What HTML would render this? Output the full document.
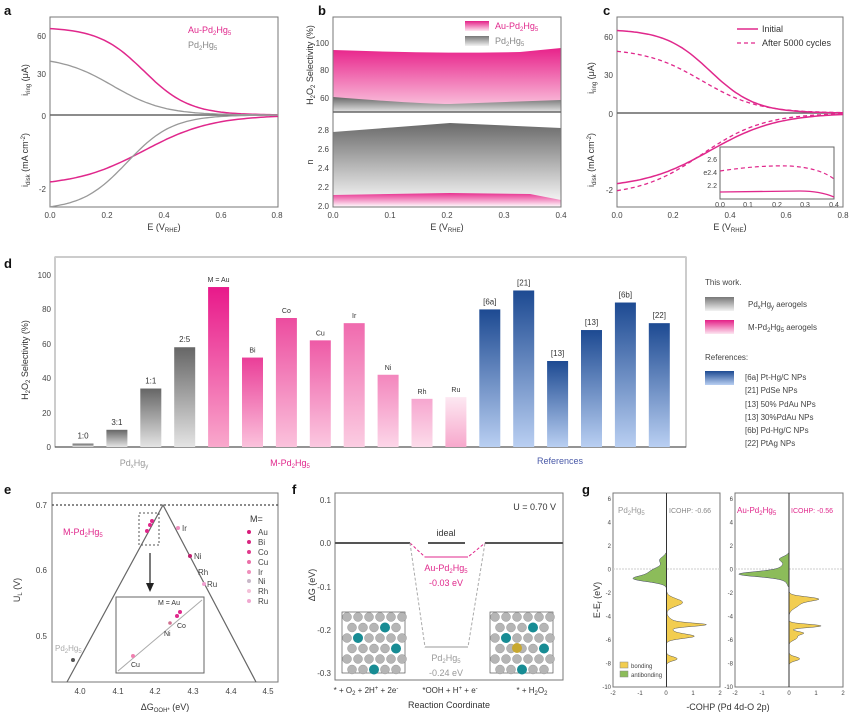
<!DOCTYPE html>
<html><head><meta charset="utf-8">
<style>
html,body{margin:0;padding:0;background:#fff;}
svg{display:block;font-family:"Liberation Sans",sans-serif;}
.t{font-size:8px;fill:#444;}
.l{font-size:9px;fill:#333;}
.p{font-weight:bold;font-size:13px;fill:#111;}
</style></head><body>
<svg id="s" width="861" height="718" viewBox="0 0 861 718" xmlns="http://www.w3.org/2000/svg">
<defs>
<linearGradient id="gG" x1="0" y1="0" x2="0" y2="1"><stop offset="0" stop-color="#666"/><stop offset="1" stop-color="#e4e4e4"/></linearGradient>
<linearGradient id="gB" x1="0" y1="0" x2="0" y2="1"><stop offset="0" stop-color="#1d4a92"/><stop offset="1" stop-color="#b9cff2"/></linearGradient>
<linearGradient id="gP" x1="0" y1="0" x2="0" y2="1"><stop offset="0" stop-color="#e8228a"/><stop offset="1" stop-color="#fbd0e4"/></linearGradient>
<linearGradient id="bP" x1="0" y1="0" x2="0" y2="1"><stop offset="0" stop-color="#e41f87"/><stop offset="1" stop-color="#fde6f1"/></linearGradient>
<linearGradient id="bG" x1="0" y1="0" x2="0" y2="1"><stop offset="0" stop-color="#777"/><stop offset="1" stop-color="#f2f2f2"/></linearGradient>
<linearGradient id="bG2" x1="0" y1="0" x2="0" y2="1"><stop offset="0" stop-color="#6a6a6a"/><stop offset="1" stop-color="#fff"/></linearGradient>
<linearGradient id="bP2" x1="0" y1="0" x2="0" y2="1"><stop offset="0" stop-color="#e8308f"/><stop offset="1" stop-color="#fff"/></linearGradient>
<linearGradient id="pb4" x1="0" y1="0" x2="0" y2="1"><stop offset="0" stop-color="#e8198a"/><stop offset="1" stop-color="#f9a8cc"/></linearGradient>
<linearGradient id="pb5" x1="0" y1="0" x2="0" y2="1"><stop offset="0" stop-color="#ea3e98"/><stop offset="1" stop-color="#fbc2dc"/></linearGradient>
<linearGradient id="pb6" x1="0" y1="0" x2="0" y2="1"><stop offset="0" stop-color="#ec4c9f"/><stop offset="1" stop-color="#fbc2dc"/></linearGradient>
<linearGradient id="pb7" x1="0" y1="0" x2="0" y2="1"><stop offset="0" stop-color="#ee5aa6"/><stop offset="1" stop-color="#fbc8e0"/></linearGradient>
<linearGradient id="pb8" x1="0" y1="0" x2="0" y2="1"><stop offset="0" stop-color="#f06aae"/><stop offset="1" stop-color="#fbcde2"/></linearGradient>
<linearGradient id="pb9" x1="0" y1="0" x2="0" y2="1"><stop offset="0" stop-color="#f386bd"/><stop offset="1" stop-color="#fcd6e8"/></linearGradient>
<linearGradient id="pb10" x1="0" y1="0" x2="0" y2="1"><stop offset="0" stop-color="#f6a6cf"/><stop offset="1" stop-color="#fcdcea"/></linearGradient>
<linearGradient id="pb11" x1="0" y1="0" x2="0" y2="1"><stop offset="0" stop-color="#fde8f2"/><stop offset="1" stop-color="#f7a8cc"/></linearGradient>
</defs>

<text class="p" x="4" y="15">a</text><text class="p" x="318" y="15">b</text><text class="p" x="603" y="15">c</text>
<text class="p" x="4" y="268">d</text><text class="p" x="4" y="494">e</text><text class="p" x="292" y="494">f</text><text class="p" x="582" y="494">g</text>

<!-- panel a -->
<rect x="50" y="17" width="228" height="190" fill="none" stroke="#777"/>
<line x1="50" y1="115" x2="278" y2="115" stroke="#666" stroke-width="1.5"/>
<g class="t" text-anchor="end"><text x="46" y="39">60</text><text x="46" y="77">30</text><text x="46" y="119">0</text><text x="46" y="192">-2</text></g>
<g class="t" text-anchor="middle"><text x="50" y="218">0.0</text><text x="107" y="218">0.2</text><text x="164" y="218">0.4</text><text x="221" y="218">0.6</text><text x="277" y="218">0.8</text></g>
<text class="l" x="164" y="230" text-anchor="middle">E (V<tspan font-size="6" dy="2">RHE</tspan><tspan dy="-2">)</tspan></text>
<text class="l" transform="translate(28,80) rotate(-90)" text-anchor="middle">i<tspan font-size="6" dy="2">ring</tspan><tspan dy="-2"> (μA)</tspan></text>
<text class="l" transform="translate(28,160) rotate(-90)" text-anchor="middle">i<tspan font-size="6" dy="2">disk</tspan><tspan dy="-2"> (mA cm</tspan><tspan font-size="6" dy="-3">-2</tspan><tspan dy="3">)</tspan></text>
<text x="188" y="33" font-size="9" fill="#e0288c">Au-Pd<tspan font-size="6" dy="2">2</tspan><tspan dy="-2">Hg</tspan><tspan font-size="6" dy="2">5</tspan></text>
<text x="188" y="48" font-size="9" fill="#888">Pd<tspan font-size="6" dy="2">2</tspan><tspan dy="-2">Hg</tspan><tspan font-size="6" dy="2">5</tspan></text>
<path id="a1" fill="none" stroke="#e0288c" stroke-width="1.5"/><path id="a2" fill="none" stroke="#999" stroke-width="1.3"/>
<path id="a3" fill="none" stroke="#e0288c" stroke-width="1.5"/><path id="a4" fill="none" stroke="#999" stroke-width="1.3"/>

<!-- panel b -->
<path d="M333,50 Q450,54 520,52 L561,48 L561,112 L333,112Z" fill="url(#gP)"/>
<path d="M333,97 Q420,104 450,104 L561,100 L561,112 L333,112Z" fill="url(#gG)"/>
<path d="M333,132 L450,123 L561,128 L561,207 L333,207Z" fill="url(#bG2)"/>
<path d="M333,195 L450,193 L530,194 L561,200 L561,207 L333,207Z" fill="url(#bP2)"/>
<rect x="333" y="17" width="228" height="190" fill="none" stroke="#777"/>
<line x1="333" y1="112" x2="561" y2="112" stroke="#666" stroke-width="1.5"/>
<rect x="465" y="21" width="24" height="10" fill="url(#bP)"/><rect x="465" y="36" width="24" height="10" fill="url(#bG)"/>
<text x="495" y="29" font-size="9" fill="#e0288c">Au-Pd<tspan font-size="6" dy="2">2</tspan><tspan dy="-2">Hg</tspan><tspan font-size="6" dy="2">5</tspan></text>
<text x="495" y="44" font-size="9" fill="#888">Pd<tspan font-size="6" dy="2">2</tspan><tspan dy="-2">Hg</tspan><tspan font-size="6" dy="2">5</tspan></text>
<g class="t" text-anchor="end"><text x="329" y="46">100</text><text x="329" y="73">80</text><text x="329" y="101">60</text>
<text x="329" y="133">2.8</text><text x="329" y="152">2.6</text><text x="329" y="171">2.4</text><text x="329" y="190">2.2</text><text x="329" y="209">2.0</text></g>
<g class="t" text-anchor="middle"><text x="333" y="218">0.0</text><text x="390" y="218">0.1</text><text x="447" y="218">0.2</text><text x="504" y="218">0.3</text><text x="561" y="218">0.4</text></g>
<text class="l" x="447" y="230" text-anchor="middle">E (V<tspan font-size="6" dy="2">RHE</tspan><tspan dy="-2">)</tspan></text>
<text class="l" transform="translate(313,65) rotate(-90)" text-anchor="middle">H<tspan font-size="6" dy="2">2</tspan><tspan dy="-2">O</tspan><tspan font-size="6" dy="2">2</tspan><tspan dy="-2"> Selectivity (%)</tspan></text>
<text class="l" transform="translate(313,162) rotate(-90)" text-anchor="middle">n</text>

<!-- panel c -->
<rect x="617" y="17" width="226" height="190" fill="none" stroke="#777"/>
<line x1="617" y1="113" x2="843" y2="113" stroke="#666" stroke-width="1.5"/>
<g class="t" text-anchor="end"><text x="613" y="40">60</text><text x="613" y="78">30</text><text x="613" y="117">0</text><text x="613" y="193">-2</text></g>
<g class="t" text-anchor="middle"><text x="617" y="218">0.0</text><text x="673" y="218">0.2</text><text x="730" y="218">0.4</text><text x="786" y="218">0.6</text><text x="843" y="218">0.8</text></g>
<text class="l" x="730" y="230" text-anchor="middle">E (V<tspan font-size="6" dy="2">RHE</tspan><tspan dy="-2">)</tspan></text>
<text class="l" transform="translate(594,78) rotate(-90)" text-anchor="middle">i<tspan font-size="6" dy="2">ring</tspan><tspan dy="-2"> (μA)</tspan></text>
<text class="l" transform="translate(594,160) rotate(-90)" text-anchor="middle">i<tspan font-size="6" dy="2">disk</tspan><tspan dy="-2"> (mA cm</tspan><tspan font-size="6" dy="-3">-2</tspan><tspan dy="3">)</tspan></text>
<line x1="737" y1="29" x2="758" y2="29" stroke="#e0288c" stroke-width="1.5"/>
<line x1="737" y1="43" x2="758" y2="43" stroke="#e0288c" stroke-width="1.3" stroke-dasharray="4,3"/>
<text class="l" x="762" y="32">Initial</text><text class="l" x="762" y="46">After 5000 cycles</text>
<path id="c1" fill="none" stroke="#e0288c" stroke-width="1.5"/><path id="c2" fill="none" stroke="#e0288c" stroke-width="1.3" stroke-dasharray="4,3"/>
<path id="c3" fill="none" stroke="#e0288c" stroke-width="1.5"/><path id="c4" fill="none" stroke="#e0288c" stroke-width="1.3" stroke-dasharray="4,3"/>
<rect x="720" y="147" width="114" height="52" fill="#fff" stroke="#666"/>
<g font-size="7" fill="#444" text-anchor="end"><text x="717" y="162">2.6</text><text x="717" y="175">e2.4</text><text x="717" y="188">2.2</text></g>
<g font-size="7" fill="#444" text-anchor="middle"><text x="720" y="207">0.0</text><text x="748" y="207">0.1</text><text x="777" y="207">0.2</text><text x="805" y="207">0.3</text><text x="834" y="207">0.4</text></g>
<path d="M720,171 Q760,165 790,166 Q820,168 834,179" fill="none" stroke="#e0288c" stroke-width="1.2" stroke-dasharray="4,3"/>
<path d="M720,192 L800,191 Q820,191 834,197" fill="none" stroke="#e0288c" stroke-width="1.3"/>

<!-- panel d -->
<rect x="55" y="257" width="631" height="190" fill="none" stroke="#999"/>
<line x1="55" y1="257" x2="686" y2="257" stroke="#ccc" stroke-width="2"/>
<line x1="55" y1="447" x2="686" y2="447" stroke="#555" stroke-width="1.2"/>
<g class="t" text-anchor="end"><text x="51" y="278">100</text><text x="51" y="312">80</text><text x="51" y="347">60</text><text x="51" y="381">40</text><text x="51" y="416">20</text><text x="51" y="450">0</text></g>
<text class="l" transform="translate(28,360) rotate(-90)" text-anchor="middle">H<tspan font-size="6" dy="2">2</tspan><tspan dy="-2">O</tspan><tspan font-size="6" dy="2">2</tspan><tspan dy="-2"> Selectivity (%)</tspan></text>
<g id="bars"></g>
<text x="134" y="466" font-size="9" fill="#999" text-anchor="middle">Pd<tspan font-size="6" dy="2">x</tspan><tspan dy="-2">Hg</tspan><tspan font-size="6" dy="2">y</tspan></text>
<text x="290" y="466" font-size="9" fill="#e0288c" text-anchor="middle">M-Pd<tspan font-size="6" dy="2">2</tspan><tspan dy="-2">Hg</tspan><tspan font-size="6" dy="2">5</tspan></text>
<text x="560" y="464" font-size="9" fill="#4a5aa8" text-anchor="middle">References</text>
<text class="t" x="705" y="285">This work.</text>
<rect x="705" y="297" width="29" height="14" fill="url(#bG)"/><rect x="705" y="320" width="29" height="14" fill="url(#bP)"/>
<text class="t" x="748" y="307">Pd<tspan font-size="6" dy="2">x</tspan><tspan dy="-2">Hg</tspan><tspan font-size="6" dy="2">y</tspan><tspan dy="-2"> aerogels</tspan></text>
<text class="t" x="748" y="330">M-Pd<tspan font-size="6" dy="2">2</tspan><tspan dy="-2">Hg</tspan><tspan font-size="6" dy="2">5</tspan><tspan dy="-2"> aerogels</tspan></text>
<text class="t" x="705" y="360">References:</text>
<rect x="705" y="371" width="29" height="14" fill="url(#gB)"/>
<g class="t"><text x="745" y="380">[6a] Pt-Hg/C NPs</text><text x="745" y="393">[21] PdSe NPs</text><text x="745" y="407">[13] 50% PdAu NPs</text><text x="745" y="420">[13] 30%PdAu NPs</text><text x="745" y="433">[6b] Pd-Hg/C NPs</text><text x="745" y="446">[22] PtAg NPs</text></g>

<!-- panel e -->
<rect x="52" y="493" width="226" height="189" fill="none" stroke="#777"/>
<line x1="52" y1="505" x2="278" y2="505" stroke="#444" stroke-width="1.3" stroke-dasharray="2,2"/>
<polyline points="67,682 163,505 256,682" fill="none" stroke="#666" stroke-width="1.2"/>
<rect x="139" y="513" width="20" height="32" fill="none" stroke="#555" stroke-dasharray="2,2"/>
<line x1="150" y1="553" x2="150" y2="585" stroke="#222" stroke-width="1.2"/><path d="M146,583 L150,592 L154,583Z" fill="#222"/>
<g class="t" text-anchor="end"><text x="47" y="508">0.7</text><text x="47" y="573">0.6</text><text x="47" y="639">0.5</text></g>
<g class="t" text-anchor="middle"><text x="80" y="694">4.0</text><text x="118" y="694">4.1</text><text x="155" y="694">4.2</text><text x="193" y="694">4.3</text><text x="231" y="694">4.4</text><text x="268" y="694">4.5</text></g>
<text class="l" x="165" y="710" text-anchor="middle">ΔG<tspan font-size="6" dy="2">OOH*</tspan><tspan dy="-2"> (eV)</tspan></text>
<text class="l" transform="translate(20,590) rotate(-90)" text-anchor="middle">U<tspan font-size="6" dy="2">L</tspan><tspan dy="-2"> (V)</tspan></text>
<text x="63" y="535" font-size="9" fill="#e0288c">M-Pd<tspan font-size="6" dy="2">2</tspan><tspan dy="-2">Hg</tspan><tspan font-size="6" dy="2">5</tspan></text>
<text x="55" y="651" font-size="8" fill="#aaa">Pd<tspan font-size="6" dy="2">2</tspan><tspan dy="-2">Hg</tspan><tspan font-size="6" dy="2">5</tspan></text>
<circle cx="73" cy="660" r="2" fill="#555"/>
<g fill="#e0288c"><circle cx="152" cy="521" r="2"/><circle cx="150" cy="525" r="2"/><circle cx="147" cy="531" r="2"/><circle cx="178" cy="528" r="2" fill="#f090c0"/><circle cx="190" cy="556" r="2" fill="#c02070"/><circle cx="204" cy="584" r="2" fill="#f0a0d0"/></g>
<g class="t"><text x="182" y="531">Ir</text><text x="194" y="559">Ni</text><text x="198" y="575">Rh</text><text x="207" y="587">Ru</text></g>
<text class="l" x="250" y="522">M=</text>
<g font-size="8" fill="#444"><text x="258" y="535">Au</text><text x="258" y="545">Bi</text><text x="258" y="555">Co</text><text x="258" y="565">Cu</text><text x="258" y="575">Ir</text><text x="258" y="584">Ni</text><text x="258" y="594">Rh</text><text x="258" y="604">Ru</text></g>
<g><circle cx="249" cy="532" r="2" fill="#d81b7a"/><circle cx="249" cy="542" r="2" fill="#d82680"/><circle cx="249" cy="552" r="2" fill="#e03a8c"/><circle cx="249" cy="562" r="2" fill="#ea70a8"/><circle cx="249" cy="572" r="2" fill="#ef90bc"/><circle cx="249" cy="581" r="2" fill="#c8b8c8"/><circle cx="249" cy="591" r="2" fill="#f4c0d8"/><circle cx="249" cy="601" r="2" fill="#f0a8d0"/></g>
<rect x="116" y="597" width="88" height="76" fill="#fff" stroke="#666"/>
<line x1="118" y1="671" x2="202" y2="600" stroke="#aaa"/>
<g fill="#e0288c"><circle cx="180" cy="612" r="2"/><circle cx="177" cy="616" r="2"/><circle cx="170" cy="623" r="1.8" fill="#d07090"/><circle cx="133" cy="656" r="2" fill="#f080b0"/></g>
<g font-size="7" fill="#333"><text x="158" y="605">M = Au</text><text x="177" y="628">Co</text><text x="164" y="636">Ni</text><text x="131" y="667">Cu</text></g>

<!-- panel f -->
<rect x="335" y="493" width="228" height="187" fill="none" stroke="#777"/>
<g class="t" text-anchor="end"><text x="331" y="503">0.1</text><text x="331" y="546">0.0</text><text x="331" y="590">-0.1</text><text x="331" y="633">-0.2</text><text x="331" y="676">-0.3</text></g>
<text class="l" transform="translate(315,585) rotate(-90)" text-anchor="middle">ΔG (eV)</text>
<g stroke="#555" stroke-width="2"><line x1="335" y1="543" x2="410" y2="543"/><line x1="428" y1="543" x2="465" y2="543"/><line x1="485" y1="543" x2="563" y2="543"/></g>
<path d="M410,543 L425,557 L468,557 L485,543" fill="none" stroke="#e0288c" stroke-dasharray="3,2"/>
<line x1="425" y1="557" x2="468" y2="557" stroke="#e0288c"/>
<path d="M410,543 L425,647 L468,647 L485,543" fill="none" stroke="#aaa" stroke-dasharray="3,2"/>
<line x1="425" y1="647" x2="468" y2="647" stroke="#999"/>
<text class="l" x="446" y="536" text-anchor="middle">ideal</text>
<text x="446" y="571" font-size="9" fill="#e0288c" text-anchor="middle">Au-Pd<tspan font-size="6" dy="2">2</tspan><tspan dy="-2">Hg</tspan><tspan font-size="6" dy="2">5</tspan></text>
<text x="446" y="586" font-size="9" fill="#e0288c" text-anchor="middle">-0.03 eV</text>
<text x="446" y="661" font-size="9" fill="#999" text-anchor="middle">Pd<tspan font-size="6" dy="2">2</tspan><tspan dy="-2">Hg</tspan><tspan font-size="6" dy="2">5</tspan></text>
<text x="446" y="676" font-size="9" fill="#999" text-anchor="middle">-0.24 eV</text>
<text class="l" x="556" y="510" text-anchor="end">U = 0.70 V</text>
<g id="st1"></g><g id="st2"></g>
<g font-size="8" fill="#333" text-anchor="middle"><text x="366" y="693">* + O<tspan font-size="6" dy="2">2</tspan><tspan dy="-2"> + 2H</tspan><tspan font-size="6" dy="-3">+</tspan><tspan dy="3"> + 2e</tspan><tspan font-size="6" dy="-3">-</tspan></text>
<text x="450" y="693">*OOH + H<tspan font-size="6" dy="-3">+</tspan><tspan dy="3"> + e</tspan><tspan font-size="6" dy="-3">-</tspan></text>
<text x="532" y="693">* + H<tspan font-size="6" dy="2">2</tspan><tspan dy="-2">O</tspan><tspan font-size="6" dy="2">2</tspan></text></g>
<text class="l" x="449" y="708" text-anchor="middle">Reaction Coordinate</text>

<!-- panel g -->
<rect x="613" y="493" width="107" height="194" fill="none" stroke="#777"/>
<rect x="735" y="493" width="108" height="194" fill="none" stroke="#777"/>
<line x1="613" y1="569" x2="720" y2="569" stroke="#ccc" stroke-dasharray="2,1"/><line x1="735" y1="569" x2="843" y2="569" stroke="#ccc" stroke-dasharray="2,1"/>
<path id="g1" fill="#8cbc5a" stroke="#446" stroke-width="0.5"/><path id="g2" fill="#f2cd50" stroke="#555" stroke-width="0.5"/>
<path id="g3" fill="#8cbc5a" stroke="#446" stroke-width="0.5"/><path id="g4" fill="#f2cd50" stroke="#555" stroke-width="0.5"/>
<line x1="666.5" y1="493" x2="666.5" y2="687" stroke="#333"/><line x1="789" y1="493" x2="789" y2="687" stroke="#333"/>
<g font-size="6" fill="#444" text-anchor="end" id="gy"></g>
<g font-size="6" fill="#444" text-anchor="middle"><text x="613" y="695">-2</text><text x="640" y="695">-1</text><text x="666" y="695">0</text><text x="693" y="695">1</text><text x="720" y="695">2</text>
<text x="735" y="695">-2</text><text x="762" y="695">-1</text><text x="789" y="695">0</text><text x="816" y="695">1</text><text x="843" y="695">2</text></g>
<text class="l" transform="translate(600,600) rotate(-90)" text-anchor="middle">E-E<tspan font-size="6" dy="2">f</tspan><tspan dy="-2"> (eV)</tspan></text>
<text class="l" x="728" y="710" text-anchor="middle">-COHP (Pd 4d-O 2p)</text>
<text x="618" y="513" font-size="8" fill="#999">Pd<tspan font-size="6" dy="2">2</tspan><tspan dy="-2">Hg</tspan><tspan font-size="6" dy="2">5</tspan></text>
<text x="669" y="513" font-size="7" fill="#888">ICOHP: -0.66</text>
<text x="737" y="513" font-size="8" fill="#e0288c">Au-Pd<tspan font-size="6" dy="2">2</tspan><tspan dy="-2">Hg</tspan><tspan font-size="6" dy="2">5</tspan></text>
<text x="791" y="513" font-size="7" fill="#e0288c">ICOHP: -0.56</text>
<rect x="620" y="662" width="8" height="6" fill="#f2cd50" stroke="#888" stroke-width="0.5"/><rect x="620" y="671" width="8" height="6" fill="#8cbc5a" stroke="#888" stroke-width="0.5"/>
<text x="631" y="668" font-size="6" fill="#444">bonding</text><text x="631" y="677" font-size="6" fill="#444">antibonding</text>
</svg>
<script>
function P(f,x0,x1,y,n){var s="";for(var i=0;i<=n;i++){var t=i/n;s+=(i?"L":"M")+(x0+(x1-x0)*t).toFixed(1)+","+y(f(t)).toFixed(1);}return s;}
function sig(A,c,w){return function(t){var E=t*0.8;return A/(1+Math.exp((E-c)/w));};}
var S=function(id,d){document.getElementById(id).setAttribute("d",d);};
S("a1",P(sig(66,0.33,0.08),50,278,function(v){return 115-v*1.33;},80));
S("a2",P(sig(44,0.22,0.09),50,278,function(v){return 115-v*1.33;},80));
S("a3",P(sig(-1.95,0.33,0.12),50,278,function(v){return 115-v*36.5;},80));
S("a4",P(sig(-2.6,0.27,0.08),50,278,function(v){return 115-v*36.5;},80));
S("c1",P(sig(66,0.33,0.08),617,843,function(v){return 113-v*1.27;},80));
S("c2",P(sig(51,0.3,0.1),617,843,function(v){return 113-v*1.27;},80));
S("c3",P(sig(-1.95,0.33,0.12),617,843,function(v){return 113-v*38.5;},80));
S("c4",P(sig(-2.15,0.3,0.11),617,843,function(v){return 113-v*38.5;},80));
var vals=[2,10,34,58,93,52,75,62,72,42,28,29,80,91,50,68,84,72];
var labs=["1:0","3:1","1:1","2:5","M = Au","Bi","Co","Cu","Ir","Ni","Rh","Ru","[6a]","[21]","[13]","[13]","[6b]","[22]"];
var ns="http://www.w3.org/2000/svg",g=document.getElementById("bars");
for(var i=0;i<18;i++){var cx=83+33.9*i,h=vals[i]*1.72,y=447-h;var fill;
 if(i<4)fill="url(#gG)";else if(i<12)fill="url(#pb"+i+")";else fill="url(#gB)";
 var r=document.createElementNS(ns,"rect");r.setAttribute("x",cx-10.5);r.setAttribute("y",y);r.setAttribute("width",21);r.setAttribute("height",h);r.setAttribute("fill",fill);g.appendChild(r);
 var t=document.createElementNS(ns,"text");t.setAttribute("x",cx);t.setAttribute("y",y-5);t.setAttribute("text-anchor","middle");t.setAttribute("font-size",i<4||i>11?"8":"7");t.setAttribute("fill","#333");t.textContent=labs[i];g.appendChild(t);}
function gy(E){return 569.5-E*11.75;}
function cohp(x0,peaks,Emin,Emax,sign){var s="M"+x0+","+gy(Emax);for(var E=Emax;E>=Emin;E-=0.05){var v=0;peaks.forEach(function(p){v+=p[1]*Math.exp(-Math.pow((E-p[0])/p[2],2));});s+="L"+(x0+sign*v*26.75).toFixed(1)+","+gy(E).toFixed(1);}return s+"L"+x0+","+gy(Emin)+"Z";}
S("g1",cohp(666.5,[[-0.8,1.1,0.35],[-0.2,0.6,0.5],[0.8,0.25,0.4],[3.5,0.08,0.3]],-1.6,1.4,-1));
S("g2",cohp(666.5,[[-2.8,0.6,0.45],[-4.7,1.2,0.2],[-4.6,0.3,0.5],[-5.7,0.8,0.25],[-5.5,0.3,0.4],[-7.6,0.4,0.25]],-8.2,-1.6,1));
S("g3",cohp(789,[[-0.4,1.5,0.3],[-0.2,0.4,0.8],[0.9,0.3,0.3],[3.5,0.06,0.3]],-1.5,1.4,-1));
S("g4",cohp(789,[[-2.5,0.9,0.25],[-2.9,0.4,0.5],[-4.8,1.2,0.2],[-5.4,0.5,0.2],[-5.8,0.3,0.3],[-7.6,0.4,0.25]],-8.2,-1.5,1));
var gyg=document.getElementById("gy");[6,4,2,0,-2,-4,-6,-8,-10].forEach(function(v){[611,733].forEach(function(x){var t=document.createElementNS(ns,"text");t.setAttribute("x",x);t.setAttribute("y",gy(v)+2);t.textContent=v;gyg.appendChild(t);});});
function st(id,x0,y0,au){var e=document.getElementById(id),h='<rect x="'+x0+'" y="'+y0+'" width="63" height="61" fill="#fff" stroke="#555" stroke-width="0.7"/>';
 for(var r=0;r<6;r++)for(var c=0;c<6;c++){var x=x0+5+c*11+(r%2?5:0),y=y0+5+r*10.5;if(x>x0+62)continue;h+='<circle cx="'+x+'" cy="'+y+'" r="4.5" fill="#b5b5b5" stroke="#888" stroke-width="0.4"/>';}
 [[1,2],[3,1],[4,3],[2,5]].forEach(function(p){h+='<circle cx="'+(x0+5+p[0]*11+(p[1]%2?5:0))+'" cy="'+(y0+5+p[1]*10.5)+'" r="5" fill="#178c94"/>';});
 if(au)h+='<circle cx="'+(x0+27)+'" cy="'+(y0+36)+'" r="5" fill="#c8a830"/>';e.innerHTML=h;}
st("st1",342,612,false);st("st2",490,612,true);
</script>
</body></html>
